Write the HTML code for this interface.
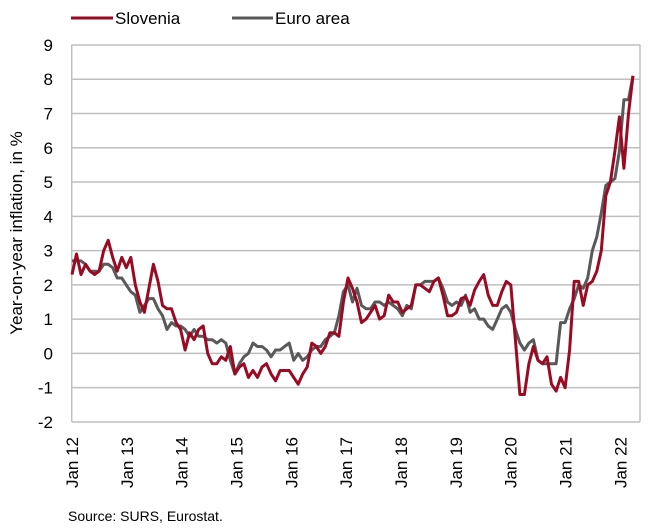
<!DOCTYPE html>
<html><head><meta charset="utf-8"><style>
html,body{margin:0;padding:0;background:#fff;width:650px;height:532px;overflow:hidden}
svg{display:block;font-family:"Liberation Sans",sans-serif}
</style></head><body>
<svg id="s" width="650" height="532" viewBox="0 0 650 532">
<g id="grid" stroke="#bfbfbf" stroke-width="1.5" fill="none"></g>
<g id="yl" font-size="17" fill="#000" text-anchor="end"></g>
<g id="xl" font-size="17" fill="#000" text-anchor="end"></g>
<text transform="translate(22,233) rotate(-90)" font-size="17" text-anchor="middle">Year-on-year inflation, in %</text>
<line x1="71" y1="18" x2="113" y2="18" stroke="#9b0a23" stroke-width="3"/>
<text x="115" y="24" font-size="17">Slovenia</text>
<line x1="232" y1="18" x2="273" y2="18" stroke="#595959" stroke-width="3"/>
<text x="275" y="24" font-size="17">Euro area</text>
<polyline id="eu" fill="none" stroke="#595959" stroke-width="3" stroke-linejoin="round"/>
<polyline id="si" fill="none" stroke="#9b0a23" stroke-width="3" stroke-linejoin="round"/>
<text x="68" y="521" font-size="14">Source: SURS, Eurostat.</text>
</svg>
<script>
var L=71.7,R=640,T=44.7,B=421.7;
function Y(v){return 353.4-v*34.27;}
function X(i){return 72+i*4.524;}
var ns="http://www.w3.org/2000/svg";
var g=document.getElementById('grid'),yl=document.getElementById('yl'),xl=document.getElementById('xl');
for(var v=-2;v<=9;v++){var l=document.createElementNS(ns,'line');l.setAttribute('x1',L);l.setAttribute('x2',R);l.setAttribute('y1',Y(v));l.setAttribute('y2',Y(v));g.appendChild(l);
var t=document.createElementNS(ns,'text');t.setAttribute('x',53);t.setAttribute('y',Y(v)+6);t.textContent=v;yl.appendChild(t);}
var r=document.createElementNS(ns,'path');r.setAttribute('d','M'+L+' '+T+'V'+B+'M'+R+' '+T+'V'+B);g.appendChild(r);
for(var k=0;k<=10;k++){var x=72+k*12*4.57;var t=document.createElementNS(ns,'text');t.setAttribute('transform','translate('+(x+6)+',437) rotate(-90)');t.textContent='Jan '+(12+k);xl.appendChild(t);}
var si=[2.3,2.9,2.3,2.6,2.4,2.3,2.4,3.0,3.3,2.8,2.4,2.8,
2.5,2.8,2.0,1.5,1.2,1.9,2.6,2.1,1.4,1.3,1.3,0.9,
0.7,0.1,0.6,0.4,0.7,0.8,0.0,-0.3,-0.3,-0.1,-0.2,0.2,
-0.6,-0.4,-0.3,-0.7,-0.5,-0.7,-0.4,-0.3,-0.6,-0.8,-0.5,-0.5,
-0.5,-0.7,-0.9,-0.6,-0.4,0.3,0.2,0.0,0.2,0.6,0.6,0.5,
1.5,2.2,1.9,1.5,0.9,1.0,1.2,1.4,1.0,1.1,1.7,1.5,
1.5,1.2,1.3,1.4,2.0,2.0,1.9,1.8,2.1,2.2,1.7,1.1,
1.1,1.2,1.6,1.65,1.4,1.85,2.1,2.3,1.7,1.4,1.4,1.8,
2.1,2.0,0.4,-1.2,-1.2,-0.3,0.2,-0.2,-0.3,-0.1,-0.9,-1.1,
-0.7,-1.0,0.1,2.1,2.1,1.4,2.0,2.1,2.4,3.0,4.6,5.0,
5.9,6.9,5.4,7.0,8.1];
var eu=[2.7,2.7,2.7,2.6,2.4,2.4,2.4,2.6,2.6,2.5,2.2,2.2,
2.0,1.8,1.7,1.2,1.4,1.6,1.6,1.3,1.1,0.7,0.9,0.8,
0.8,0.7,0.5,0.7,0.5,0.5,0.4,0.4,0.3,0.4,0.3,-0.2,
-0.6,-0.3,-0.1,0.0,0.3,0.2,0.2,0.1,-0.1,0.1,0.1,0.2,
0.3,-0.2,0.0,-0.2,-0.1,0.1,0.2,0.2,0.4,0.5,0.6,1.1,
1.8,2.0,1.5,1.9,1.4,1.3,1.3,1.5,1.5,1.4,1.5,1.4,
1.3,1.1,1.4,1.3,2.0,2.0,2.1,2.1,2.1,2.2,1.9,1.5,
1.4,1.5,1.4,1.7,1.2,1.3,1.0,1.0,0.8,0.7,1.0,1.3,
1.4,1.2,0.7,0.3,0.1,0.3,0.4,-0.2,-0.3,-0.3,-0.3,-0.3,
0.9,0.9,1.3,1.6,2.0,1.9,2.2,3.0,3.4,4.1,4.9,5.0,
5.1,5.9,7.4,7.4,8.1];
function pts(a){return a.map(function(v,i){return X(i).toFixed(1)+','+Y(v).toFixed(1);}).join(' ');}
document.getElementById('si').setAttribute('points',pts(si));
document.getElementById('eu').setAttribute('points',pts(eu));
</script>
</body></html>
